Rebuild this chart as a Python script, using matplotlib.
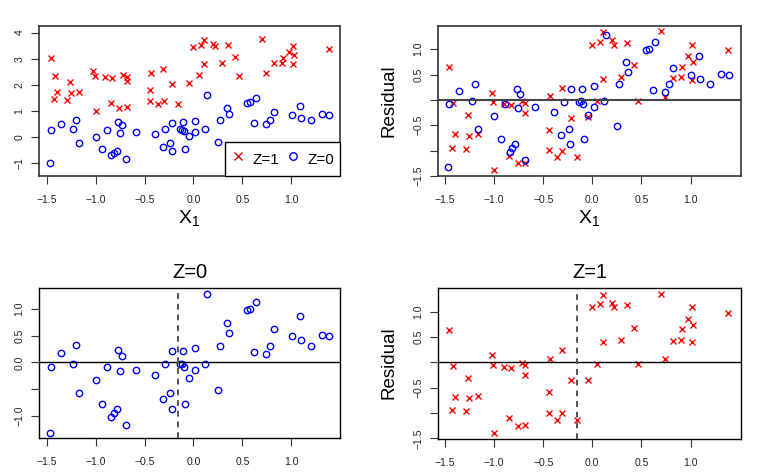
import matplotlib
matplotlib.use("Agg")
import matplotlib.pyplot as plt
from matplotlib.lines import Line2D

plt.rcParams['font.family'] = ['Liberation Sans', 'DejaVu Sans']
plt.rcParams['mathtext.fontset'] = 'custom'
plt.rcParams['mathtext.rm'] = 'Liberation Sans'
plt.rcParams['mathtext.it'] = 'Liberation Sans'

# ---- data: group Z=0 ----
x0 = [-1.459, -1.354, -1.228, -1.197, -1.167, -0.997, -0.932, -0.884, -0.840, -0.816,
      -0.786, -0.769, -0.755, -0.735, -0.690, -0.585, -0.388, -0.316, -0.289, -0.238,
      -0.224, -0.218, -0.133, -0.116, -0.105, -0.099, -0.085, -0.041, 0.017, 0.014,
      0.119, 0.136, 0.248, 0.272, 0.347, 0.367, 0.548, 0.578, 0.619, 0.636,
      0.738, 0.786, 0.823, 1.003, 1.085, 1.095, 1.201, 1.310, 1.388, -1.469]
y0 = [0.27, 0.51, 0.31, 0.66, -0.23, 0.01, -0.43, 0.27, -0.69, -0.60,
      -0.54, 0.57, 0.18, 0.48, -0.84, 0.19, 0.11, -0.36, 0.31, -0.23,
      -0.52, 0.56, 0.31, 0.28, 0.57, 0.25, -0.43, 0.05, 0.62, 0.20,
      0.32, 1.63, -0.17, 0.65, 1.10, 0.89, 1.32, 1.35, 0.54, 1.49,
      0.50, 0.65, 0.98, 0.84, 1.21, 0.75, 0.65, 0.87, 0.84, -0.98]
r0 = [-0.09, 0.17, -0.03, 0.32, -0.58, -0.325, -0.78, -0.08, -1.03, -0.95,
      -0.875, 0.225, -0.16, 0.125, -1.18, -0.14, -0.24, -0.69, -0.04, -0.58,
      -0.87, 0.21, -0.04, -0.025, 0.22, -0.09, -0.78, -0.29, 0.27, -0.14,
      -0.025, 1.28, -0.51, 0.305, 0.74, 0.55, 0.98, 1.00, 0.19, 1.14,
      0.16, 0.31, 0.63, 0.49, 0.86, 0.41, 0.31, 0.52, 0.49, -1.33]

# ---- data: group Z=1 ----
x1 = [-1.454, -1.426, -1.418, -1.393, -1.288, -1.261, -1.256, -1.165, -1.024, -1.007,
      -0.999, -0.902, -0.847, -0.830, -0.759, -0.715, -0.684, -0.681, -0.681, -0.443,
      -0.439, -0.429, -0.359, -0.307, -0.305, -0.215, -0.157, -0.041, -0.002, 0.052,
      0.080, 0.108, 0.111, 0.203, 0.225, 0.291, 0.354, 0.429, 0.463, 0.697,
      0.740, 0.822, 0.903, 0.915, 0.978, 1.017, 1.028, 1.014, 1.381]
y1 = [3.03, 1.45, 2.33, 1.72, 1.44, 2.10, 1.69, 1.73, 2.54, 2.34,
      1.01, 2.31, 1.29, 2.28, 1.13, 2.38, 2.29, 2.14, 1.16, 1.81,
      1.39, 2.46, 1.27, 2.62, 1.40, 2.03, 1.27, 2.06, 3.46, 2.36,
      3.54, 2.80, 3.71, 3.57, 3.49, 2.84, 3.52, 3.06, 2.34, 3.75,
      2.45, 2.82, 2.85, 3.04, 3.24, 3.48, 3.15, 2.78, 3.36]
r1 = [0.645, -0.94, -0.066, -0.68, -0.97, -0.30, -0.71, -0.67, 0.145, -0.05,
      -1.39, -0.086, -1.105, -0.11, -1.25, -0.013, -0.06, -0.25, -1.24, -0.59,
      -0.99, 0.07, -1.13, 0.24, -1.00, -0.355, -1.13, -0.34, 1.09, -0.03,
      1.145, 0.41, 1.33, 1.18, 1.09, 0.45, 1.13, 0.68, -0.03, 1.355,
      0.06, 0.43, 0.45, 0.65, 0.86, 1.09, 0.74, 0.395, 0.98]

cutoff = -0.16
xticks = [-1.5, -1.0, -0.5, 0.0, 0.5, 1.0]
xtlabels = ['-1.5', '-1.0', '-0.5', '0.0', '0.5', '1.0']

W, H = 767, 472
fig = plt.figure(figsize=(W / 100, H / 100), dpi=100)


def add_ax(l, t, r, b):
    return fig.add_axes([l / W, 1 - b / H, (r - l) / W, (b - t) / H])


def style(ax, col, lw):
    for s in ax.spines.values():
        s.set_color(col)
        s.set_linewidth(lw)
    ax.tick_params(direction='out', length=5.5, width=0.8, labelsize=7.5,
                   color='#333333', labelcolor='#222222')
    ax.tick_params(axis='x', pad=8.5)
    ax.tick_params(axis='y', pad=5)
    ax.set_xticks(xticks)
    ax.set_xticklabels([t.replace('-', '\u2212') for t in xtlabels])


def yt(ax, ticks, labels):
    ax.set_yticks(ticks)
    ax.set_yticklabels([l.replace('-', '\u2212') for l in labels],
                       rotation=90, va='center')


ms = 4.6
mew = 1.0

# ---- top-left ----
ax1 = add_ax(39, 26, 340, 176)
ax1.plot(x1, y1, ls='none', marker='x', color='red', ms=ms, mew=mew)
ax1.plot(x0, y0, ls='none', marker='o', mfc='none', mec='blue', ms=ms, mew=mew)
ax1.set_xlim(-1.578, 1.497)
ax1.set_ylim(-1.48, 4.25)
style(ax1, '#333333', 1.2)
yt(ax1, [-1, 0, 1, 2, 3, 4], ['-1', '0', '1', '2', '3', '4'])
handles = [Line2D([], [], ls='none', marker='x', color='red', ms=ms + 0.8, mew=mew),
           Line2D([], [], ls='none', marker='o', mfc='none', mec='blue', ms=ms + 0.8, mew=mew)]
leg = ax1.legend(handles, ['Z=1', 'Z=0'], ncol=2, loc='lower right',
                 borderaxespad=0, fancybox=False, edgecolor='black',
                 fontsize=11, handlelength=1.0, handleheight=1.9,
                 handletextpad=0.42, columnspacing=0.45, borderpad=0.38,
                 framealpha=1)
leg.get_frame().set_linewidth(1.0)

# ---- top-right ----
ax2 = add_ax(438, 25.5, 741, 176)
ax2.plot(x1, r1, ls='none', marker='x', color='red', ms=ms, mew=mew)
ax2.plot(x0, r0, ls='none', marker='o', mfc='none', mec='blue', ms=ms, mew=mew)
ax2.axhline(0, color='#444444', lw=1.5)
ax2.set_xlim(-1.571, 1.514)
ax2.set_ylim(-1.50, 1.467)
style(ax2, '#333333', 1.2)
yt(ax2, [-1.5, -1.0, -0.5, 0.0, 0.5, 1.0], ['-1.5', '', '-0.5', '', '0.5', '1.0'])

# ---- bottom-left ----
ax3 = add_ax(39, 288, 340, 438)
ax3.plot(x0, r0, ls='none', marker='o', mfc='none', mec='blue', ms=ms, mew=mew)
ax3.axhline(0, color='black', lw=1.0)
ax3.axvline(cutoff, color='#555555', lw=1.4, ls=(0, (3, 2.5)))
ax3.set_xlim(-1.578, 1.497)
ax3.set_ylim(-1.419, 1.394)
style(ax3, 'black', 1.0)
yt(ax3, [-1.0, -0.5, 0.0, 0.5, 1.0], ['-1.0', '', '0.0', '0.5', '1.0'])

# ---- bottom-right ----
ax4 = add_ax(438, 288, 741, 438.7)
ax4.plot(x1, r1, ls='none', marker='x', color='red', ms=ms, mew=mew)
ax4.axhline(0, color='black', lw=1.0)
ax4.axvline(cutoff, color='#555555', lw=1.4, ls=(0, (3, 2.5)))
ax4.set_xlim(-1.571, 1.514)
ax4.set_ylim(-1.507, 1.467)
style(ax4, 'black', 1.0)
yt(ax4, [-1.5, -1.0, -0.5, 0.0, 0.5, 1.0], ['-1.5', '', '-0.5', '', '0.5', '1.0'])

# ---- text labels ----
def ftext(x, y, s, **kw):
    fig.text(x / W, 1 - y / H, s, ha='center', va='center', **kw)

ftext(189.5, 218, r'$\mathregular{X_1}$', fontsize=14)
ftext(589.5, 218, r'$\mathregular{X_1}$', fontsize=14)
ftext(389, 101, 'Residual', fontsize=13.5, rotation=90)
ftext(389, 363, 'Residual', fontsize=13.5, rotation=90)
ftext(189.5, 272, 'Z=0', fontsize=14.5)
ftext(589.5, 272, 'Z=1', fontsize=14.5)

fig.savefig('out.png', dpi=100)
